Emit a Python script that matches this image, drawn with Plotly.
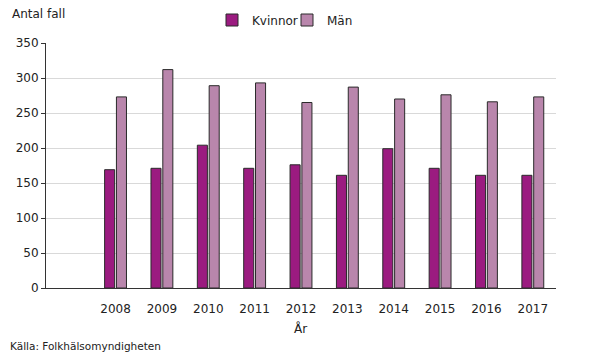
import plotly.graph_objects as go

years = [2008, 2009, 2010, 2011, 2012, 2013, 2014, 2015, 2016, 2017]
kvinnor = [169, 171, 204, 171, 176, 161, 199, 171, 161, 161]
man = [273, 312, 289, 293, 265, 287, 270, 276, 266, 273]
yticks = [0, 50, 100, 150, 200, 250, 300, 350]

font = "DejaVu Sans"
L, R, T, B = 46, 556, 43, 288
PW, PH = R - L, B - T


def fx(px):
    return (px - L) / PW


def fy(py):
    return (B - py) / PH


fig = go.Figure()
fig.add_trace(go.Bar(x=years, y=kvinnor, name="Kvinnor",
                     marker=dict(color="#9B1B80", line=dict(color="#2a2a2a", width=1))))
fig.add_trace(go.Bar(x=years, y=man, name="Män",
                     marker=dict(color="#B986AC", line=dict(color="#2a2a2a", width=1))))

fig.update_layout(
    width=590, height=354,
    margin=dict(l=L, r=590 - R, t=T, b=354 - B, autoexpand=False),
    paper_bgcolor="white", plot_bgcolor="white",
    barmode="group", bargap=0.49, bargroupgap=0.15,
    font=dict(family=font, size=12, color="#222"),
    showlegend=True,
    legend=dict(orientation="h", x=fx(212), xanchor="left", y=fy(20), yanchor="middle",
                font=dict(size=12), traceorder="normal", bgcolor="rgba(0,0,0,0)",
                itemwidth=30, entrywidth=30, entrywidthmode="pixels"),
    xaxis=dict(range=[2006.5, 2017.5], tickvals=years, ticktext=[str(y) for y in years],
               showline=True, linecolor="#333", linewidth=1, ticks="",
               ticklabelstandoff=10,
               showgrid=False, zeroline=False, tickfont=dict(size=12)),
    yaxis=dict(range=[0, 350], tickvals=yticks, showline=True, linecolor="#333",
               linewidth=1, ticks="outside", ticklen=4, tickcolor="#333",
               showgrid=True, gridcolor="#d9d9d9", gridwidth=1, zeroline=False,
               tickfont=dict(size=12)),
)
fig.add_annotation(text="Antal fall", x=fx(10), y=fy(14), xref="paper", yref="paper",
                   showarrow=False, xanchor="left", yanchor="middle", font=dict(size=12))
fig.add_annotation(text="År", x=fx(300), y=fy(328), xref="paper", yref="paper",
                   showarrow=False, xanchor="center", yanchor="middle", font=dict(size=12))
fig.add_annotation(text="Källa: Folkhälsomyndigheten", x=fx(8), y=fy(346), xref="paper",
                   yref="paper", showarrow=False, xanchor="left", yanchor="middle",
                   font=dict(size=10.5))

fig.write_html("out.html")
